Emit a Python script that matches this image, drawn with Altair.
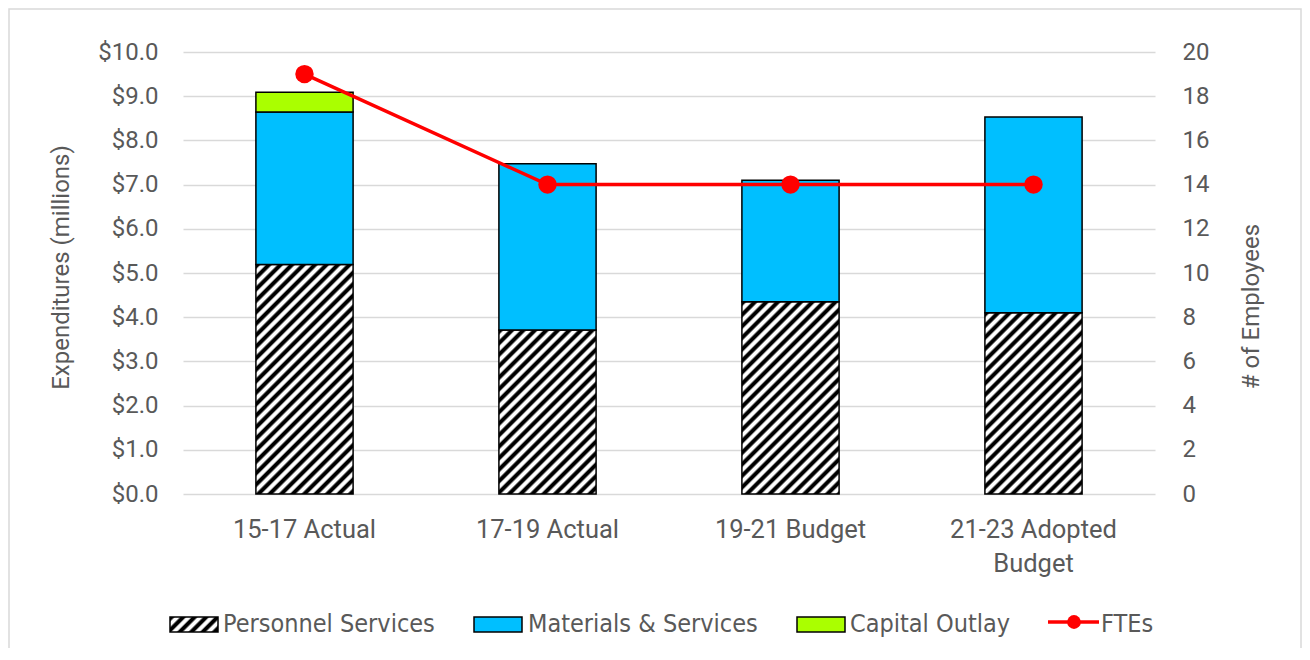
import math
import altair as alt
import pandas as pd

# ---------------- data ----------------
periods = ["15-17 Actual", "17-19 Actual", "19-21 Budget", "21-23 Adopted Budget"]
personnel = [5.19, 3.71, 4.35, 4.10]
materials = [3.45, 3.76, 2.75, 4.43]
capital = [0.45, 0.0, 0.0, 0.0]
ftes = [19, 14, 14, 14]

series_names = ["Personnel Services", "Materials & Services", "Capital Outlay", "FTEs"]
y_left_ticks = [0, 1, 2, 3, 4, 5, 6, 7, 8, 9, 10]
y_right_ticks = [0, 2, 4, 6, 8, 10, 12, 14, 16, 18, 20]

df = pd.DataFrame({
    "period": periods,
    "personnel": personnel,
    "materials": materials,
    "capital": capital,
    "fte": ftes,
})

# ---------------- layout / style ----------------
W, H = 972, 442
PAD_L, PAD_T = 175, 44
SVG_W, SVG_H = 1294, 640
GREY = "#595959"
GRID = "#D9D9D9"
BLUE = "#00BFFF"
GREEN = "#AAFF00"
RED = "#FF0000"
STEP = W / (4 - 0.6 + 2 * 0.3)
BAR_W = STEP * 0.4
PX_PER_UNIT = H / 10.0
LEG_FONT = "DejaVu Sans Condensed, sans-serif"


def hatch_fill(w, h, period=11.5, slope=1.0):
    s = slope
    lam = (s * w + h) / (s * s * w * w + h * h)
    x2 = s * w * lam
    y2 = h * lam
    n = (s * w + h) / (s * period)
    stops = []
    k = 0
    while k < n:
        for frac, col in [(0.0, "#000000"), (0.3, "#000000"), (0.5, "#FFFFFF"), (0.8, "#FFFFFF")]:
            off = (k + frac) / n
            if off <= 1:
                stops.append(alt.GradientStop(offset=off, color=col))
        k += 1
    return alt.LinearGradient(gradient="linear", x1=0, y1=0, x2=x2, y2=y2, stops=stops)


x_enc = alt.X(
    "period:N",
    sort=periods,
    scale=alt.Scale(domain=periods, paddingInner=0.6, paddingOuter=0.3),
    axis=alt.Axis(
        title=None,
        labelAngle=0,
        labelPadding=23,
        labelFontSize=25.5,
        labelLineHeight=34,
        labelExpr="datum.label == '21-23 Adopted Budget' ? ['21-23 Adopted', 'Budget'] : datum.label",
    ),
)

y_scale = alt.Scale(domain=[0, 10], nice=False)
y_axis = alt.Axis(
    values=y_left_ticks,
    format="$.1f",
    grid=True,
    gridColor=GRID,
    gridWidth=1.5,
    labelPadding=25,
    title="Expenditures (millions)",
    titleAngle=270,
    titleX=-122,
    titleY=215,
    titleAlign="center",
    titleBaseline="middle",
)

base = alt.Chart(df)

hatch_layers = []
for p, v in zip(periods, personnel):
    hatch_layers.append(
        base.transform_filter(alt.datum.period == p)
        .mark_bar(fill=hatch_fill(BAR_W, v * PX_PER_UNIT), stroke="black", strokeWidth=1.5)
        .encode(x=x_enc, y=alt.Y("personnel:Q", scale=y_scale, axis=y_axis), y2=alt.datum(0))
    )

mat_layer = (
    base.transform_calculate(m_top="datum.personnel + datum.materials")
    .mark_bar(fill=BLUE, stroke="black", strokeWidth=1.5)
    .encode(x=x_enc, y=alt.Y("m_top:Q", scale=y_scale, axis=y_axis), y2="personnel:Q")
)

cap_layer = (
    base.transform_calculate(m_top="datum.personnel + datum.materials")
    .transform_calculate(c_top="datum.m_top + datum.capital")
    .transform_filter("datum.capital > 0")
    .mark_bar(fill=GREEN, stroke="black", strokeWidth=1.5)
    .encode(x=x_enc, y=alt.Y("c_top:Q", scale=y_scale, axis=y_axis), y2="m_top:Q")
)

bars = alt.layer(*hatch_layers, mat_layer, cap_layer)

y_right = alt.Y(
    "fte:Q",
    scale=alt.Scale(domain=[0, 20], nice=False),
    axis=alt.Axis(
        orient="right",
        values=y_right_ticks,
        grid=False,
        labelPadding=27,
        title="# of Employees",
        titleAngle=270,
        titleX=96,
        titleY=254,
        titleAlign="center",
        titleBaseline="middle",
    ),
)
fte_line = base.mark_line(color=RED, strokeWidth=3.5).encode(x=x_enc, y=y_right)
fte_pts = base.mark_circle(color=RED, size=340, opacity=1).encode(x=x_enc, y=y_right)
fte = alt.layer(fte_line, fte_pts)

one = alt.Data(values=[{}])

border = alt.Chart(one).mark_rect(fill="transparent", stroke=GRID, strokeWidth=1.5).encode(
    x=alt.value(-PAD_L + 1), x2=alt.value(SVG_W - PAD_L - 1),
    y=alt.value(-PAD_T + 1), y2=alt.value(SVG_H + 50),
)

# ---------------- legend ----------------
LEG_Y0, LEG_Y1 = 565, 580
leg_box_w = 48
legend = [
    alt.Chart(one).mark_rect(fill=hatch_fill(leg_box_w, LEG_Y1 - LEG_Y0), stroke="black", strokeWidth=1.5).encode(
        x=alt.value(-13), x2=alt.value(-13 + leg_box_w), y=alt.value(LEG_Y0), y2=alt.value(LEG_Y1)),
    alt.Chart(one).mark_rect(fill=BLUE, stroke="black", strokeWidth=1.5).encode(
        x=alt.value(291), x2=alt.value(291 + leg_box_w), y=alt.value(LEG_Y0), y2=alt.value(LEG_Y1)),
    alt.Chart(one).mark_rect(fill=GREEN, stroke="black", strokeWidth=1.5).encode(
        x=alt.value(614), x2=alt.value(614 + leg_box_w), y=alt.value(LEG_Y0), y2=alt.value(LEG_Y1)),
    alt.Chart(one).mark_rule(color=RED, strokeWidth=3.5).encode(
        x=alt.value(865), x2=alt.value(916), y=alt.value(570)),
    alt.Chart(one).mark_circle(color=RED, size=190, opacity=1).encode(
        x=alt.value(891), y=alt.value(570)),
]
for name, lx in zip(series_names, [40, 345, 667, 918]):
    legend.append(
        alt.Chart(one).mark_text(align="left", baseline="alphabetic", font=LEG_FONT, fontSize=25, color=GREY)
        .encode(x=alt.value(lx), y=alt.value(580), text=alt.value(name))
    )

chart = (
    alt.layer(border, bars, fte, *legend)
    .resolve_scale(y="independent")
    .properties(
        width=W,
        height=H,
        autosize=alt.AutoSizeParams(type="none"),
        padding={"left": PAD_L, "top": PAD_T, "right": SVG_W - PAD_L - W, "bottom": SVG_H - PAD_T - H},
        background="white",
    )
    .configure_axis(
        labelFont="Roboto",
        labelFontSize=24,
        labelColor=GREY,
        titleFont="Roboto",
        titleFontSize=24,
        titleColor=GREY,
        titleFontWeight="normal",
        ticks=False,
        tickSize=0,
        domain=False,
    )
    .configure_view(stroke=None)
)

chart.save("out.html", embed_options={"renderer": "svg", "actions": False})
